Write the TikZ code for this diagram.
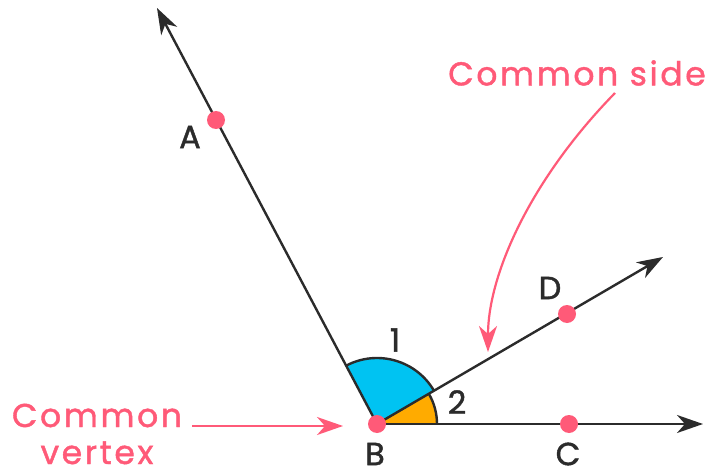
\documentclass[tikz,border=0pt]{standalone}
\usepackage{fontspec}
\setmainfont{Poppins}[FakeBold=1.3]
\newfontfamily\callfont{Poppins}[LetterSpace=8,FakeBold=1.3]
\usetikzlibrary{arrows.meta}
\definecolor{mypink}{HTML}{FF5A78}
\definecolor{myblue}{HTML}{00C3F2}
\definecolor{myorange}{HTML}{FFAB00}
\definecolor{mydark}{HTML}{2B2B2B}
\begin{document}
\begin{tikzpicture}[x=1pt,y=1pt,
  ray/.style={draw=mydark,line width=2.4pt,-{Stealth[length=26pt,width=18pt,inset=8pt]}},
  dot/.style={circle,fill=mypink,inner sep=0pt,minimum size=18pt},
  lbl/.style={text=mydark,font=\fontsize{32}{36}\selectfont,inner sep=0pt},
  call/.style={text=mypink,font=\callfont\fontsize{33}{37}\selectfont,inner sep=0pt,align=center},
  callarrow/.style={draw=mypink,line width=2.2pt,-{Stealth[length=26pt,width=18pt,inset=8pt]}}]
\useasboundingbox (0,0) rectangle (710,475);
\coordinate (B) at (377,51);
\coordinate (tA) at (157,467);
\coordinate (tD) at (663,218);
\coordinate (tC) at (703,51);
% sectors
\fill[myblue] (B) -- ++(30:66) arc[start angle=30,end angle=118,radius=66] -- cycle;
\fill[myorange] (B) -- ++(0:60) arc[start angle=0,end angle=30,radius=60] -- cycle;
\draw[mydark,line width=2.4pt] ([shift={(30:66)}]B) arc[start angle=30,end angle=118,radius=66];
\draw[mydark,line width=2.4pt] ([shift={(0:60)}]B) arc[start angle=0,end angle=30,radius=60];
% rays
\draw[ray] (B) -- (tA);
\draw[ray] (B) -- (tD);
\draw[ray] (B) -- (tC);
% dots
\node[dot] (A) at (216,355) {};
\node[dot] (D) at (567,161) {};
\node[dot] (C) at (569,51) {};
\node[dot] (Bd) at (B) {};
% labels
\node[lbl] (lA) at (190,338) {A};
\node[lbl] (lB) at (375,21) {B};
\node[lbl] (lC) at (568,21) {C};
\node[lbl] (lD) at (550,187) {D};
\node[lbl] (l1) at (395,135) {1};
\node[lbl] (l2) at (457,73) {2};
% callouts
\node[call] (cs) at (577,402) {Common side};
\node[call] (cv) at (97,41) {Common\\vertex};
\coordinate (csStart) at (615,382);
\coordinate (csEnd) at (488,123);
\draw[callarrow] (csStart) .. controls (530,295) and (488,200) .. (csEnd);
\coordinate (cvStart) at (192,49);
\coordinate (cvEnd) at (343,49);
\draw[callarrow] (cvStart) -- (cvEnd);
\end{tikzpicture}
\end{document}
